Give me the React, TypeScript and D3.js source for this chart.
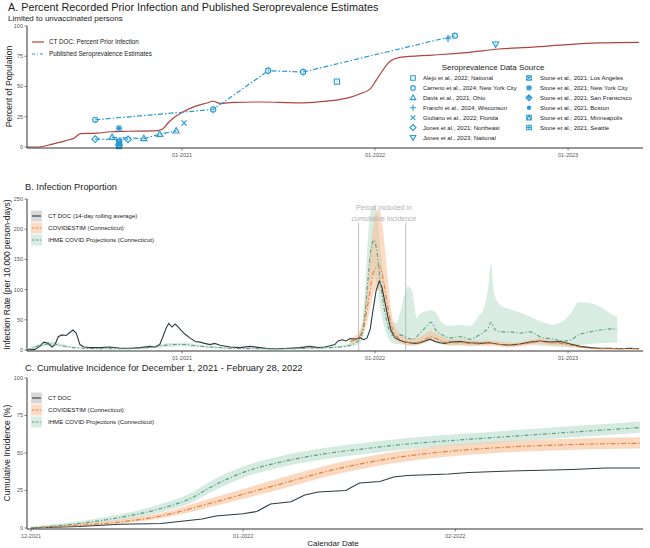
import React from 'react';
import * as d3 from 'd3';

type Pt = [string, number];
type Band = [string, number, number, number];

const FONT = '"Liberation Sans", Arial, Helvetica, sans-serif';
const BLUE = '#2a9bd1';
const RED = '#b0443d';
const DARK = '#2c3a42';
const ORANGE = '#e4823d';
const GREEN = '#5d9f86';
const AXIS = '#333333';
const TICK_TEXT = '#555555';

// A. CT DOC percent with a recorded prior infection
const priorInfection: Pt[] = [
  ['2020-03-14', 0], ['2020-04-07', 0], ['2020-04-27', 2], ['2020-05-16', 4], ['2020-05-29', 5.6],
  ['2020-06-10', 7], ['2020-06-23', 11], ['2020-07-25', 11.4], ['2020-08-19', 12.6], ['2020-09-20', 13],
  ['2020-11-16', 13.6], ['2020-11-26', 15], ['2020-12-05', 19.6], ['2020-12-16', 24], ['2021-01-01', 28.5],
  ['2021-01-22', 33], ['2021-02-17', 36.4], ['2021-03-01', 37.8], ['2021-03-14', 36], ['2021-04-08', 36.8],
  ['2021-05-29', 37.2], ['2021-08-13', 36.5], ['2021-09-20', 37.5], ['2021-10-22', 39], ['2021-11-15', 41],
  ['2021-12-04', 44], ['2021-12-23', 48], ['2022-01-03', 55], ['2022-01-15', 63], ['2022-01-30', 71],
  ['2022-02-17', 74], ['2022-04-20', 76], ['2022-06-23', 78], ['2022-08-24', 81], ['2022-10-26', 82.5],
  ['2022-12-30', 84.6], ['2023-03-01', 86], ['2023-05-15', 86.5],
];

// Published seroprevalence estimates: [date, estimate, lower, upper]
const alejo2022: Band[] = [['2021-10-21', 54, 52, 56]];
const carreno2024: Band[] = [
  ['2020-07-21', 22.5, 20.5, 24.5], ['2021-03-01', 31, 26, 35], ['2021-06-13', 63, 59, 67],
  ['2021-08-18', 62, 58, 66], ['2022-06-01', 92, 90, 94],
];
const davis2021: Band[] = [
  ['2020-08-22', 8, 7, 9], ['2020-10-21', 7, 6, 8], ['2020-11-20', 10.5, 9.5, 11.5], ['2020-12-21', 13.3, 12, 14.5],
];
const franchi2024: Band[] = [['2022-05-19', 89.5, 86.5, 92.5]];
const giuliano2022: Band[] = [['2021-01-05', 19.8, 18, 21.5]];
const jonesNortheast: Band[] = [['2020-07-21', 6.5, 5.8, 7.2], ['2020-09-21', 6.3, 5, 7.8]];
const jonesNational: Band[] = [['2022-08-17', 85, 82, 88]];
const stoneLA: Band[] = [['2020-09-04', 3.6, 3.6, 3.6]];
const stoneNYC: Band[] = [['2020-09-04', 15.6, 13.5, 17.5]];
const stoneSF: Band[] = [['2020-09-04', 1.6, 1.6, 1.6]];
const stoneBoston: Band[] = [['2020-09-04', 2.6, 2.6, 2.6]];
const stoneMinneapolis: Band[] = [['2020-09-04', 0.7, 0.7, 0.7]];
const stoneSeattle: Band[] = [['2020-09-04', 4.5, 4.5, 4.5]];

const yearTicks = ['2021-01-01', '2022-01-01', '2023-01-01'];
const monthTicks = ['2021-12-01', '2022-01-01', '2022-02-01'];
const pctTicks = [0, 25, 50, 75, 100];
const rateTicks = [0, 50, 100, 150, 200, 250];

// B. infections per 10,000 person-days
const ctdocRate: Pt[] = [
  ['2020-03-14', 0], ['2020-03-29', 1], ['2020-04-07', 6], ['2020-04-15', 13], ['2020-04-23', 11],
  ['2020-04-30', 5], ['2020-05-06', 9], ['2020-05-12', 22], ['2020-05-19', 25], ['2020-05-27', 24],
  ['2020-06-03', 29], ['2020-06-09', 33], ['2020-06-15', 28], ['2020-06-18', 20], ['2020-06-22', 9],
  ['2020-06-30', 5], ['2020-07-11', 4], ['2020-07-30', 4], ['2020-08-18', 5], ['2020-09-06', 3],
  ['2020-09-25', 3], ['2020-10-14', 4], ['2020-11-01', 6], ['2020-11-11', 5], ['2020-11-20', 9],
  ['2020-11-26', 22], ['2020-12-02', 36], ['2020-12-07', 44], ['2020-12-13', 38], ['2020-12-19', 43],
  ['2020-12-24', 39], ['2020-12-30', 33], ['2021-01-07', 26], ['2021-01-16', 20], ['2021-01-26', 14],
  ['2021-02-04', 13], ['2021-02-13', 11], ['2021-02-23', 9], ['2021-03-04', 11], ['2021-03-14', 8],
  ['2021-04-02', 5], ['2021-04-21', 4], ['2021-05-10', 6], ['2021-05-28', 4], ['2021-06-16', 2],
  ['2021-07-05', 2], ['2021-07-24', 3], ['2021-08-12', 4], ['2021-08-31', 6], ['2021-09-15', 4],
  ['2021-09-28', 5], ['2021-10-08', 7], ['2021-10-17', 9], ['2021-10-23', 15], ['2021-10-31', 17],
  ['2021-11-07', 15], ['2021-11-15', 19], ['2021-11-24', 18], ['2021-12-04', 20], ['2021-12-11', 17],
  ['2021-12-17', 20], ['2021-12-23', 35], ['2021-12-28', 65], ['2022-01-03', 98], ['2022-01-09', 114],
  ['2022-01-14', 104], ['2022-01-20', 78], ['2022-01-26', 52], ['2022-01-31', 33], ['2022-02-08', 20],
  ['2022-02-17', 16], ['2022-02-27', 13], ['2022-03-08', 12], ['2022-03-18', 11], ['2022-03-27', 12],
  ['2022-04-06', 15], ['2022-04-15', 18], ['2022-04-24', 14], ['2022-05-04', 12], ['2022-05-13', 11],
  ['2022-05-23', 13], ['2022-06-11', 14], ['2022-06-30', 12], ['2022-07-19', 11], ['2022-08-06', 12],
  ['2022-08-25', 9], ['2022-09-13', 8], ['2022-10-02', 10], ['2022-10-21', 13], ['2022-11-09', 15],
  ['2022-11-28', 13], ['2022-12-17', 14], ['2023-01-05', 10], ['2023-01-24', 6], ['2023-02-12', 4],
  ['2023-03-02', 3], ['2023-03-21', 3], ['2023-04-09', 2], ['2023-04-28', 3], ['2023-05-15', 2],
];

const covidestimRate: Band[] = [
  ['2021-11-15', 14, 10, 19], ['2021-11-24', 17, 12, 23], ['2021-12-04', 24, 17, 34], ['2021-12-11', 40, 28, 60],
  ['2021-12-17', 68, 45, 105], ['2021-12-23', 100, 70, 160], ['2021-12-28', 126, 90, 200], ['2022-01-03', 136, 100, 228],
  ['2022-01-09', 139, 100, 232], ['2022-01-14', 128, 90, 215], ['2022-01-20', 100, 68, 165], ['2022-01-26', 68, 45, 110],
  ['2022-01-31', 44, 30, 70], ['2022-02-08', 26, 18, 40], ['2022-02-17', 18, 12, 28], ['2022-02-27', 14, 9, 22],
  ['2022-03-08', 12, 8, 19], ['2022-03-18', 12, 8, 19], ['2022-03-27', 14, 9, 22], ['2022-04-06', 18, 12, 27],
  ['2022-04-15', 22, 15, 32], ['2022-04-24', 20, 14, 29], ['2022-05-04', 16, 11, 24], ['2022-05-13', 13, 9, 20],
  ['2022-05-23', 12, 8, 18], ['2022-06-11', 12, 8, 18], ['2022-06-30', 11, 7, 17], ['2022-07-19', 10, 7, 15],
  ['2022-08-06', 11, 7, 16], ['2022-08-25', 9, 6, 14], ['2022-09-13', 8, 5, 12], ['2022-10-02', 9, 6, 13],
  ['2022-10-21', 12, 8, 17], ['2022-11-09', 14, 10, 20], ['2022-11-28', 12, 8, 17], ['2022-12-17', 11, 7, 16],
  ['2023-01-05', 8, 5, 12], ['2023-01-24', 5, 3, 8], ['2023-02-12', 3, 2, 5], ['2023-03-02', 2, 1, 3.5],
  ['2023-04-09', 2, 1, 3], ['2023-05-15', 2, 1, 3],
];

const ihmeRate: Band[] = [
  ['2020-03-14', 0, 0, 1], ['2020-03-29', 5, 3, 8], ['2020-04-15', 9, 6, 13], ['2020-04-30', 10, 7, 14],
  ['2020-05-19', 7, 5, 10], ['2020-06-09', 4, 3, 6], ['2020-06-30', 3, 2, 4], ['2020-07-30', 2, 1, 3],
  ['2020-09-06', 2, 1, 3], ['2020-10-14', 3, 2, 4], ['2020-11-11', 5, 3, 7], ['2020-12-02', 8, 5, 11],
  ['2020-12-19', 9, 6, 12], ['2021-01-07', 9, 6, 12], ['2021-01-26', 7, 5, 10], ['2021-02-23', 5, 3, 7],
  ['2021-04-02', 3, 2, 5], ['2021-05-28', 2, 1, 3], ['2021-07-24', 2, 1, 4], ['2021-08-31', 3, 2, 5],
  ['2021-10-08', 4, 2, 6], ['2021-11-05', 6, 4, 9], ['2021-11-26', 12, 8, 18], ['2021-12-07', 25, 15, 40],
  ['2021-12-13', 60, 40, 100], ['2021-12-19', 120, 85, 190], ['2021-12-24', 165, 115, 230], ['2021-12-30', 182, 125, 240],
  ['2022-01-05', 160, 105, 225], ['2022-01-10', 120, 75, 180], ['2022-01-18', 70, 40, 110], ['2022-01-26', 38, 20, 65],
  ['2022-02-02', 25, 12, 48], ['2022-02-10', 22, 10, 45], ['2022-02-17', 25, 10, 60], ['2022-02-27', 22, 8, 95],
  ['2022-03-04', 20, 8, 105], ['2022-03-12', 18, 7, 98], ['2022-03-21', 22, 8, 53], ['2022-03-27', 28, 10, 60],
  ['2022-04-07', 38, 14, 64], ['2022-04-17', 46, 16, 66], ['2022-04-26', 33, 12, 62], ['2022-05-08', 25, 9, 45],
  ['2022-05-23', 20, 7, 40], ['2022-06-11', 22, 8, 42], ['2022-06-30', 18, 6, 40], ['2022-07-15', 24, 8, 55],
  ['2022-07-26', 30, 10, 70], ['2022-08-04', 38, 12, 110], ['2022-08-08', 46, 14, 144], ['2022-08-14', 36, 12, 95],
  ['2022-08-25', 30, 10, 75], ['2022-09-13', 30, 10, 68], ['2022-10-02', 28, 9, 62], ['2022-10-21', 30, 10, 55],
  ['2022-11-09', 22, 7, 48], ['2022-12-04', 18, 6, 42], ['2022-12-26', 15, 5, 50], ['2023-01-09', 18, 6, 65],
  ['2023-01-20', 25, 8, 79], ['2023-02-12', 30, 10, 78], ['2023-03-02', 33, 11, 72], ['2023-03-27', 35, 12, 58],
  ['2023-04-04', 34, 12, 55],
];

const periodBounds = ['2021-12-01', '2022-02-28'];

// C. cumulative incidence over the omicron window
const ctdocCum: Pt[] = [
  ['2021-12-01', 0], ['2021-12-08', 1], ['2021-12-14', 2.5], ['2021-12-20', 3], ['2021-12-26', 6],
  ['2021-12-28', 8], ['2022-01-01', 9.5], ['2022-01-03', 11], ['2022-01-05', 16], ['2022-01-07', 17],
  ['2022-01-08', 17.5], ['2022-01-10', 22], ['2022-01-12', 24], ['2022-01-16', 25], ['2022-01-18', 30],
  ['2022-01-21', 31], ['2022-01-23', 34], ['2022-01-25', 35], ['2022-01-31', 36], ['2022-02-03', 37],
  ['2022-02-09', 38], ['2022-02-18', 39], ['2022-02-23', 40], ['2022-02-28', 40],
];
const covidestimCum: Band[] = [
  ['2021-12-01', 0, 0, 0.5], ['2021-12-07', 1.5, 1, 2.5], ['2021-12-14', 4, 3, 5.5], ['2021-12-20', 8, 6.5, 10],
  ['2021-12-26', 15, 12.5, 18], ['2022-01-01', 22.5, 19.5, 26], ['2022-01-07', 30, 26.5, 34], ['2022-01-13', 37.5, 34, 41.5],
  ['2022-01-19', 43.5, 40, 47.5], ['2022-01-25', 48, 44.5, 52], ['2022-02-01', 51.5, 48, 55.5], ['2022-02-07', 53.5, 50, 57.5],
  ['2022-02-14', 55, 51.5, 59], ['2022-02-21', 56, 52.5, 60], ['2022-02-28', 56.5, 53, 60.5],
];
const ihmeCum: Band[] = [
  ['2021-12-01', 0, 0, 1], ['2021-12-07', 2.5, 1.5, 4], ['2021-12-14', 7, 5, 9], ['2021-12-20', 13, 10.5, 16],
  ['2021-12-24', 19, 16, 22.5], ['2021-12-28', 29, 25.5, 33], ['2022-01-01', 37, 33.5, 41], ['2022-01-07', 44.5, 41, 48.5],
  ['2022-01-13', 49.5, 46, 53.5], ['2022-01-19', 53, 49.5, 57], ['2022-01-25', 56, 52.5, 60], ['2022-02-01', 58.5, 55, 62.5],
  ['2022-02-12', 62, 58.5, 66], ['2022-02-20', 64.5, 61, 68.5], ['2022-02-28', 67, 63.5, 71],
];

const parse = d3.timeParse('%Y-%m-%d') as (s: string) => Date;
const fmtMonth = d3.timeFormat('%m-%Y');

type Shape =
  | 'square' | 'circle' | 'triangle' | 'plus' | 'cross' | 'diamond' | 'triangleDown'
  | 'squareCross' | 'asterisk' | 'diamondPlus' | 'dot' | 'squareTriangle' | 'squarePlus';

const seroSources: { label: string; shape: Shape; data: Band[] }[] = [
  { label: 'Alejo et al., 2022; National', shape: 'square', data: alejo2022 },
  { label: 'Carreno et al., 2024; New York City', shape: 'circle', data: carreno2024 },
  { label: 'Davis et al., 2021; Ohio', shape: 'triangle', data: davis2021 },
  { label: 'Franchi et al., 2024; Wisconson', shape: 'plus', data: franchi2024 },
  { label: 'Giuliano et al., 2022; Florida', shape: 'cross', data: giuliano2022 },
  { label: 'Jones et al., 2021; Northeast', shape: 'diamond', data: jonesNortheast },
  { label: 'Jones et al., 2023; National', shape: 'triangleDown', data: jonesNational },
  { label: 'Stone et al., 2021; Los Angeles', shape: 'squareCross', data: stoneLA },
  { label: 'Stone et al., 2021; New York City', shape: 'asterisk', data: stoneNYC },
  { label: 'Stone et al., 2021; San Franscisco', shape: 'diamondPlus', data: stoneSF },
  { label: 'Stone et al.; 2021, Boston', shape: 'dot', data: stoneBoston },
  { label: 'Stone et al.; 2021, Minneapolis', shape: 'squareTriangle', data: stoneMinneapolis },
  { label: 'Stone et al.; 2021, Seattle', shape: 'squarePlus', data: stoneSeattle },
];

function Marker({ shape, x, y, s = 2.6 }: { shape: Shape; x: number; y: number; s?: number }) {
  const st = { fill: 'none', stroke: BLUE, strokeWidth: 1.1 };
  const sq = `M${x - s},${y - s}H${x + s}V${y + s}H${x - s}Z`;
  const dm = `M${x},${y - s * 1.3}L${x + s * 1.3},${y}L${x},${y + s * 1.3}L${x - s * 1.3},${y}Z`;
  const pl = `M${x - s * 1.3},${y}H${x + s * 1.3}M${x},${y - s * 1.3}V${y + s * 1.3}`;
  const xx = `M${x - s},${y - s}L${x + s},${y + s}M${x + s},${y - s}L${x - s},${y + s}`;
  switch (shape) {
    case 'square': return <path d={sq} {...st} />;
    case 'circle': return <circle cx={x} cy={y} r={s} {...st} />;
    case 'triangle':
      return <path d={`M${x},${y - s * 1.3}L${x + s * 1.2},${y + s * 0.8}L${x - s * 1.2},${y + s * 0.8}Z`} {...st} />;
    case 'triangleDown':
      return <path d={`M${x},${y + s * 1.3}L${x + s * 1.2},${y - s * 0.8}L${x - s * 1.2},${y - s * 0.8}Z`} {...st} />;
    case 'plus': return <path d={pl} {...st} />;
    case 'cross': return <path d={xx} {...st} />;
    case 'diamond': return <path d={dm} {...st} />;
    case 'squareCross': return <path d={sq + xx} {...st} />;
    case 'asterisk': return <path d={pl + xx} {...st} />;
    case 'diamondPlus': return <path d={dm + pl} {...st} />;
    case 'dot': return <circle cx={x} cy={y} r={s * 0.95} fill={BLUE} />;
    case 'squareTriangle':
      return <path d={sq + `M${x - s},${y + s}L${x},${y - s}L${x + s},${y + s}`} {...st} />;
    case 'squarePlus':
      return <path d={sq + `M${x - s},${y}H${x + s}M${x},${y - s}V${y + s}`} {...st} />;
  }
  return null;
}

type Scale = (v: number) => number;
type TimeScale = (d: Date) => number;

function YAxis({ scale, ticks, x, top, bottom }: { scale: Scale; ticks: number[]; x: number; top: number; bottom: number }) {
  return (
    <g>
      <line x1={x} x2={x} y1={top} y2={bottom} stroke={AXIS} strokeWidth={1} />
      {ticks.map(t => (
        <g key={t}>
          <line x1={x - 2.5} x2={x} y1={scale(t)} y2={scale(t)} stroke={AXIS} strokeWidth={0.6} />
          <text x={x - 4} y={scale(t)} dy="0.35em" textAnchor="end" fontSize={5.5} fill={TICK_TEXT}>{t}</text>
        </g>
      ))}
    </g>
  );
}

function XAxis({ scale, ticks, y, left, right }: { scale: TimeScale; ticks: string[]; y: number; left: number; right: number }) {
  return (
    <g>
      <line x1={left} x2={right} y1={y} y2={y} stroke={AXIS} strokeWidth={1} />
      {ticks.map(t => {
        const px = scale(parse(t));
        return (
          <g key={t}>
            <line x1={px} x2={px} y1={y} y2={y + 2.5} stroke={AXIS} strokeWidth={0.6} />
            <text x={px} y={y + 8.5} textAnchor="middle" fontSize={5.5} fill={TICK_TEXT}>{fmtMonth(parse(t))}</text>
          </g>
        );
      })}
    </g>
  );
}

// legend key with a shaded box (fill legend) and a line on top
function BoxKey({ x, y, fill, stroke, dash, label }: { x: number; y: number; fill: string; stroke: string; dash?: string; label: string }) {
  return (
    <g>
      <rect x={x} y={y - 5.5} width={11} height={11} fill={fill} />
      <line x1={x + 1} x2={x + 10} y1={y} y2={y} stroke={stroke} strokeWidth={1.1} strokeDasharray={dash} />
      <text x={x + 17} y={y} dy="0.35em" fontSize={6.1} fill="#222">{label}</text>
    </g>
  );
}

export default function App() {
  const W = 650;
  const H = 548;

  const xLong = d3.scaleTime().domain([parse('2020-03-14'), parse('2023-05-17')]).range([27, 640]);
  const yA = d3.scaleLinear().domain([0, 100]).range([147, 26]);
  const yB = d3.scaleLinear().domain([0, 250]).range([350, 199]);
  const xC = d3.scaleTime().domain([new Date(2021, 10, 30, 10), parse('2022-02-28')]).range([27, 640]);
  const yC = d3.scaleLinear().domain([0, 100]).range([528, 378]);

  const line = (data: Pt[], x: TimeScale, y: Scale, curve: d3.CurveFactory = d3.curveLinear) =>
    d3.line<Pt>().x(d => x(parse(d[0]))).y(d => y(d[1])).curve(curve)(data) || '';
  const mean = (data: Band[], x: TimeScale, y: Scale, curve: d3.CurveFactory = d3.curveMonotoneX) =>
    d3.line<Band>().x(d => x(parse(d[0]))).y(d => y(d[1])).curve(curve)(data) || '';
  const band = (data: Band[], x: TimeScale, y: Scale) =>
    d3.area<Band>().x(d => x(parse(d[0]))).y0(d => y(d[2])).y1(d => y(d[3])).curve(d3.curveMonotoneX)(data) || '';

  const dotdash = '5,2,1.5,2';
  const dotdashG = '4,2,1.2,2';

  const legendLeft = seroSources.slice(0, 7);
  const legendRight = seroSources.slice(7);
  const rowY = (i: number) => 78 + i * 9.9;

  return (
    <svg width={W} height={H} style={{ position: 'absolute', left: 0, top: 0, background: '#fff' }} fontFamily={FONT}>
      <rect width={W} height={H} fill="#fff" />

      {/* ---------- Panel A ---------- */}
      <text x={8} y={11} fontSize={10.8} fill="#222">A. Percent Recorded Prior Infection and Published Seroprevalence Estimates</text>
      <text x={8} y={20.5} fontSize={8} fill="#222">Limited to unvaccinated persons</text>
      <text transform={`translate(12,${yA(50)}) rotate(-90)`} textAnchor="middle" fontSize={8.5} fill="#222">Percent of Population</text>

      <path d={line(priorInfection, xLong, yA, d3.curveMonotoneX)} fill="none" stroke={RED} strokeWidth={1.2} />

      {seroSources.filter(s => s.data.length > 1).map(s => (
        <path key={s.label} d={mean(s.data, xLong, yA, d3.curveLinear)} fill="none" stroke={BLUE} strokeWidth={1.2} strokeDasharray={dotdash} />
      ))}
      {seroSources.map(s => s.data.map(d => {
        const px = xLong(parse(d[0]));
        return (
          <g key={s.label + d[0]}>
            {d[3] > d[2] && <line x1={px} x2={px} y1={yA(d[2])} y2={yA(d[3])} stroke={BLUE} strokeWidth={0.6} opacity={0.6} />}
            <Marker shape={s.shape} x={px} y={yA(d[1])} />
          </g>
        );
      }))}

      <YAxis scale={yA} ticks={pctTicks} x={27} top={yA(100)} bottom={148} />
      <XAxis scale={xLong} ticks={yearTicks} y={148} left={27} right={643} />

      <line x1={32} x2={44} y1={42} y2={42} stroke={RED} strokeWidth={1.2} />
      <text x={49} y={42} dy="0.35em" fontSize={6.3} fill="#222">CT DOC: Percent Prior Infection</text>
      <line x1={32} x2={44} y1={54} y2={54} stroke={BLUE} strokeWidth={1.2} strokeDasharray="3,2,1,2" />
      <text x={49} y={54} dy="0.35em" fontSize={6.3} fill="#222">Published Seroprevalence Estimates</text>

      <text x={493} y={67} dy="0.35em" textAnchor="middle" fontSize={8} fill="#222">Seroprevalence Data Source</text>
      {legendLeft.map((s, i) => (
        <g key={s.label}>
          <Marker shape={s.shape} x={413} y={rowY(i)} s={2.3} />
          <text x={423} y={rowY(i)} dy="0.35em" fontSize={6} fill="#222">{s.label}</text>
        </g>
      ))}
      {legendRight.map((s, i) => (
        <g key={s.label}>
          <Marker shape={s.shape} x={529} y={rowY(i)} s={2.3} />
          <text x={540} y={rowY(i)} dy="0.35em" fontSize={6} fill="#222">{s.label}</text>
        </g>
      ))}

      {/* ---------- Panel B ---------- */}
      <text x={25} y={190} fontSize={9.3} fill="#222">B. Infection Proportion</text>
      <text transform={`translate(10,${yB(125)}) rotate(-90)`} textAnchor="middle" fontSize={8.5} fill="#222">Infection Rate (per 10,000 person-days)</text>

      <path d={band(ihmeRate, xLong, yB)} fill="#b9dccb" opacity={0.55} />
      <path d={band(covidestimRate, xLong, yB)} fill="#f6bf96" opacity={0.55} />

      {periodBounds.map(d => (
        <line key={d} x1={xLong(parse(d))} x2={xLong(parse(d))} y1={223} y2={yB(0)} stroke="#b8b8b8" strokeWidth={0.9} />
      ))}
      <text x={384} y={208} dy="0.35em" textAnchor="middle" fontSize={7} fill="#b3b3b3">Period included in</text>
      <text x={384} y={219} dy="0.35em" textAnchor="middle" fontSize={7} fill="#b3b3b3">cumulative incidence</text>

      <path d={line(ctdocRate, xLong, yB)} fill="none" stroke={DARK} strokeWidth={1.1} />
      <path d={mean(covidestimRate, xLong, yB)} fill="none" stroke={ORANGE} strokeWidth={1.1} strokeDasharray={dotdash} />
      <path d={mean(ihmeRate, xLong, yB)} fill="none" stroke={GREEN} strokeWidth={1.1} strokeDasharray={dotdashG} />

      <YAxis scale={yB} ticks={rateTicks} x={27} top={yB(250)} bottom={351} />
      <XAxis scale={xLong} ticks={yearTicks} y={351} left={27} right={643} />

      <BoxKey x={31} y={216} fill="#d9d9d9" stroke={DARK} label="CT DOC (14-day rolling average)" />
      <BoxKey x={31} y={228} fill="#fbdcc6" stroke={ORANGE} dash="2.5,1.5" label="COVIDESTIM (Connecticut)" />
      <BoxKey x={31} y={240} fill="#d9ece3" stroke={GREEN} dash="2.5,1.5" label="IHME COVID Projections (Connecticut)" />

      {/* ---------- Panel C ---------- */}
      <text x={25} y={371} fontSize={9.3} fill="#222">C. Cumulative Incidence for December 1, 2021 - February 28, 2022</text>
      <text transform={`translate(10,${yC(50)}) rotate(-90)`} textAnchor="middle" fontSize={8.5} fill="#222">Cumulative Incidence (%)</text>

      <path d={band(ihmeCum, xC, yC)} fill="#b9dccb" opacity={0.6} />
      <path d={band(covidestimCum, xC, yC)} fill="#f6bf96" opacity={0.6} />
      <path d={line(ctdocCum, xC, yC)} fill="none" stroke={DARK} strokeWidth={1.2} />
      <path d={mean(covidestimCum, xC, yC)} fill="none" stroke={ORANGE} strokeWidth={1.2} strokeDasharray={dotdash} />
      <path d={mean(ihmeCum, xC, yC)} fill="none" stroke={GREEN} strokeWidth={1.2} strokeDasharray={dotdashG} />

      <YAxis scale={yC} ticks={pctTicks} x={27} top={yC(100)} bottom={529} />
      <XAxis scale={xC} ticks={monthTicks} y={529} left={27} right={643} />
      <text x={333} y={546} textAnchor="middle" fontSize={8} fill="#222">Calendar Date</text>

      <BoxKey x={31} y={398} fill="#d9d9d9" stroke={DARK} label="CT DOC" />
      <BoxKey x={31} y={410} fill="#fbdcc6" stroke={ORANGE} dash="2.5,1.5" label="COVIDESTIM (Connecticut)" />
      <BoxKey x={31} y={422} fill="#d9ece3" stroke={GREEN} dash="2.5,1.5" label="IHME COVID Projections (Connecticut)" />
    </svg>
  );
}
